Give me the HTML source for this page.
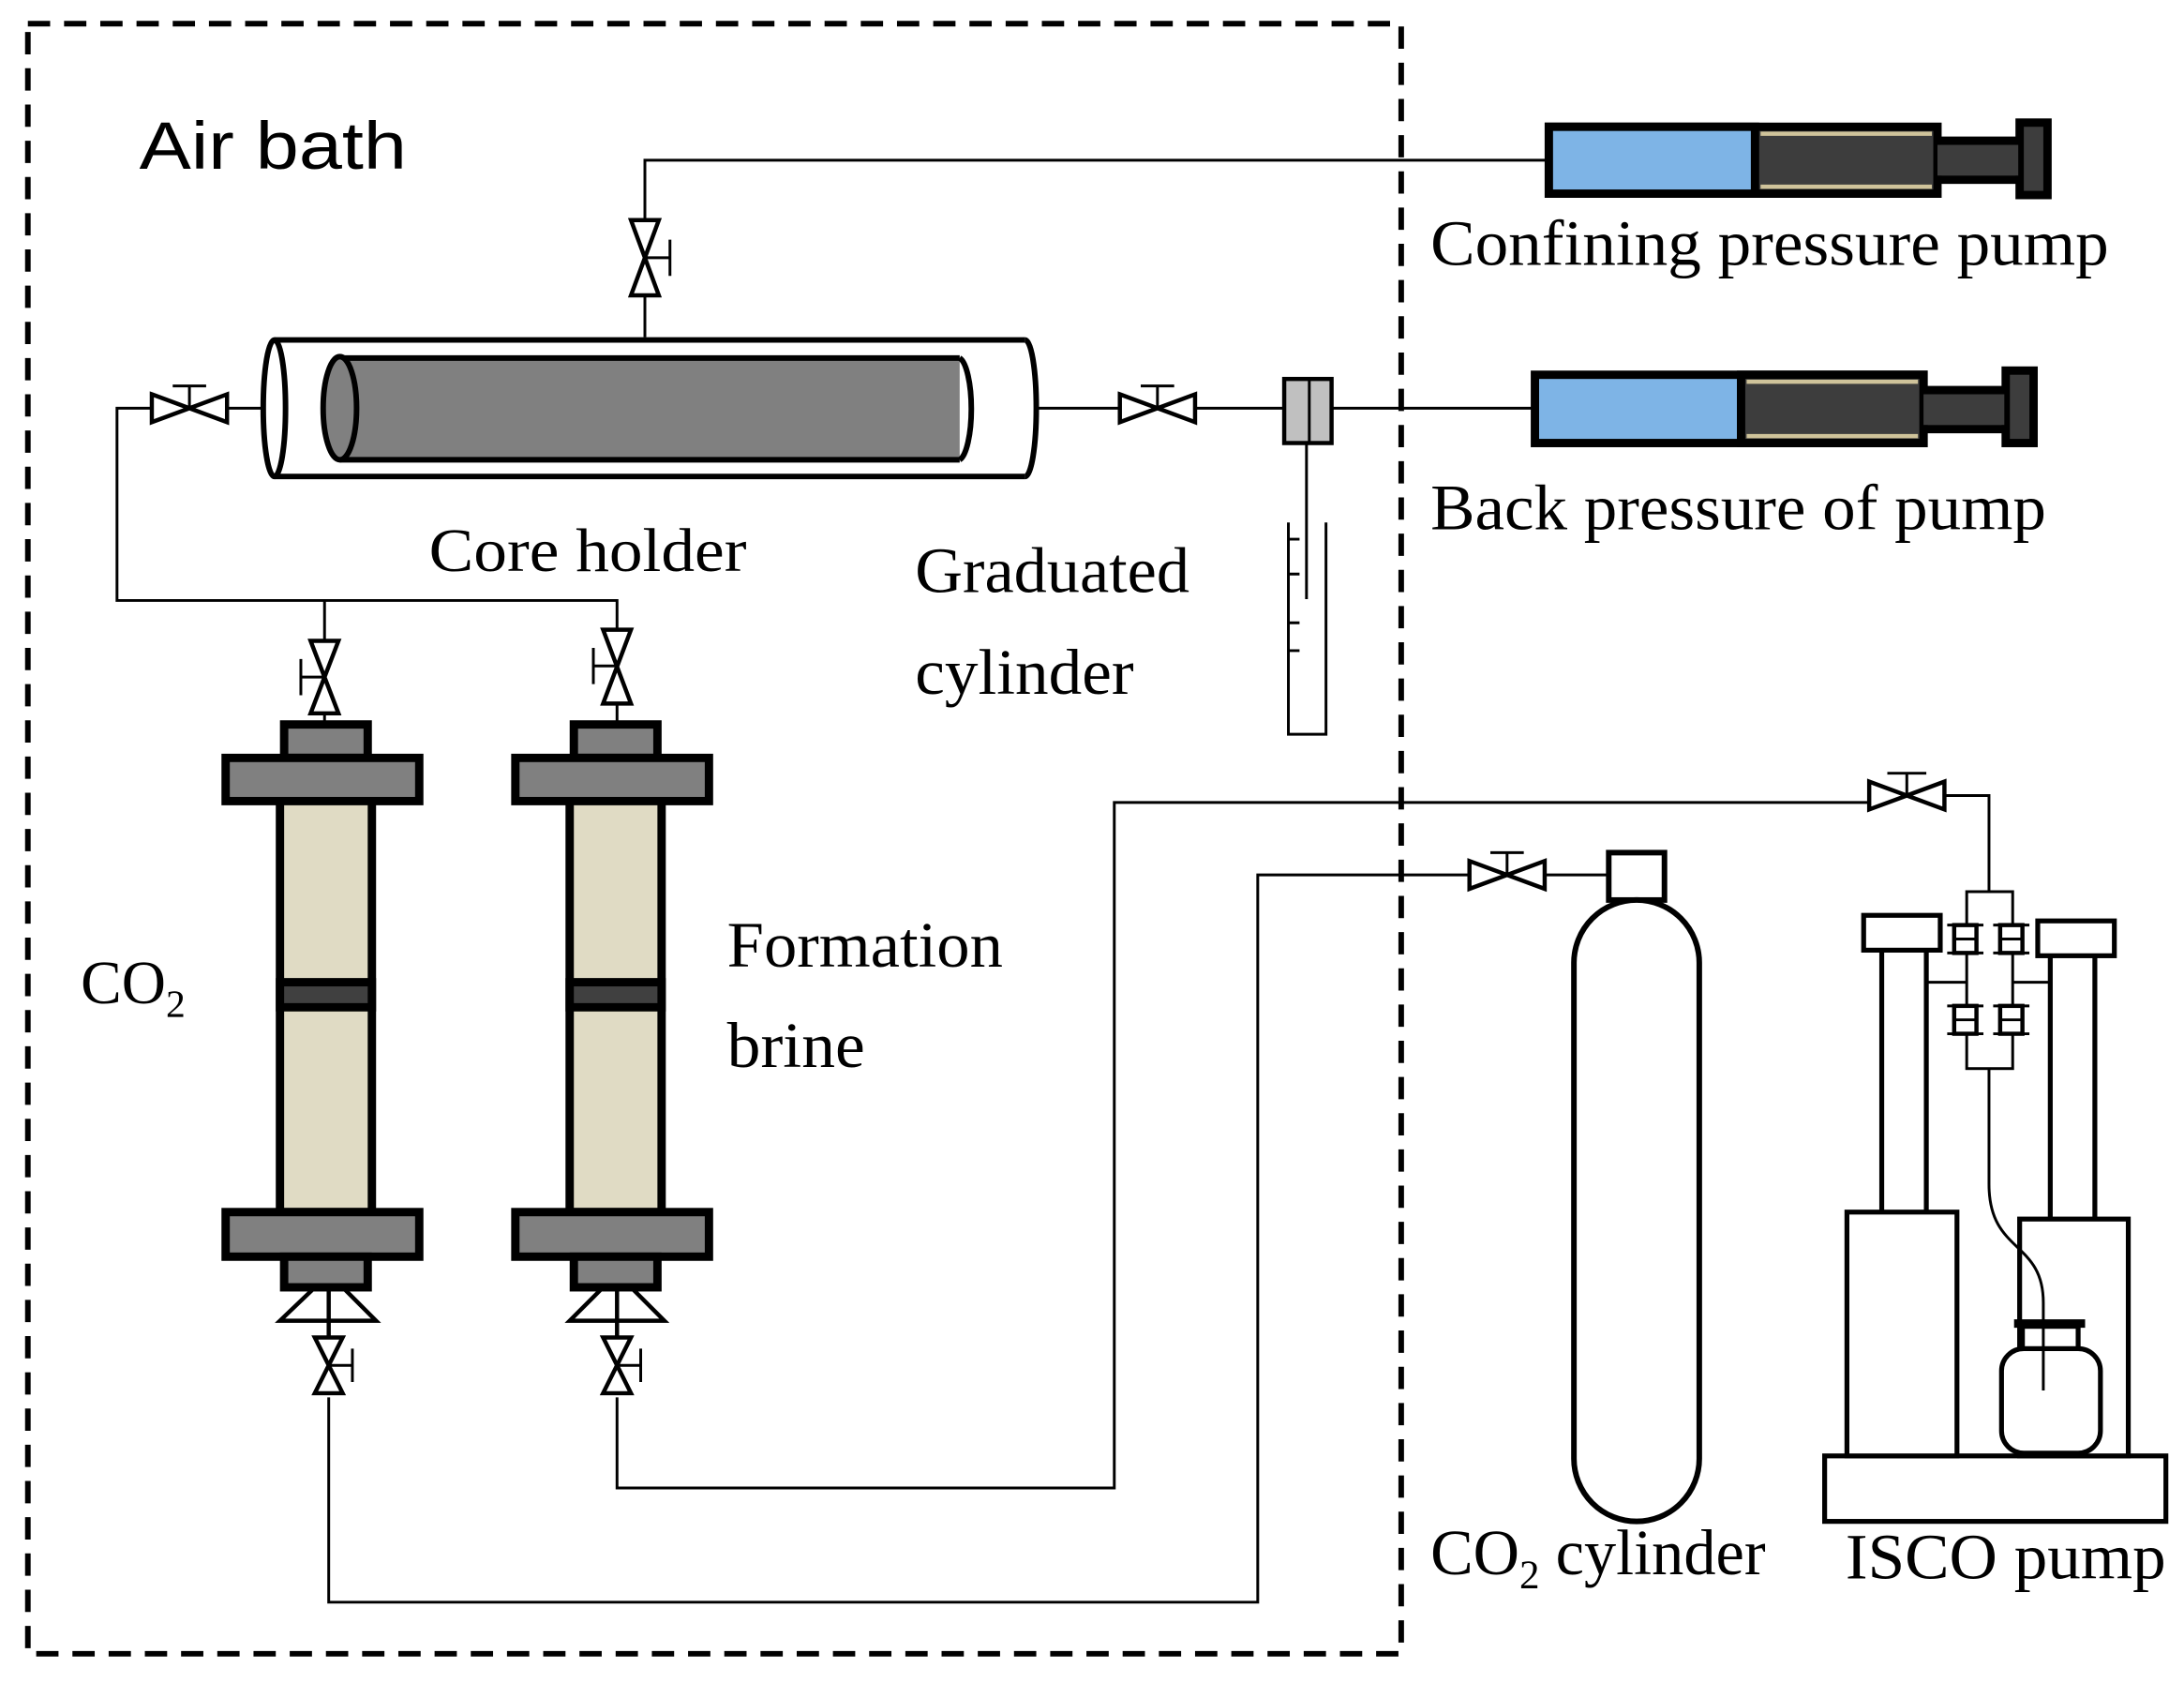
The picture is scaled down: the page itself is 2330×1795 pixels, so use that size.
<!DOCTYPE html>
<html><head><meta charset="utf-8"><style>html,body{margin:0;padding:0;background:#fff}svg{display:block}</style></head>
<body>
<svg width="2330" height="1795" viewBox="0 0 1568 1208" preserveAspectRatio="none" xmlns="http://www.w3.org/2000/svg" font-family="Liberation Serif, serif">
<rect width="1568" height="1208" fill="#fff"/>
<path d="M20 17 H1006 V1187 H20 Z" fill="none" stroke="#000" stroke-width="4" stroke-dasharray="16 10"/>
<g fill="none" stroke="#000" stroke-width="2">
<path d="M463 242 V115 H1110"/>
<path d="M190 293 H163 M109 293 H84 V431 H443 V455 M233 431 V460"/>
<path d="M745 293 H804 M858 293 H922 M956 293 H1100 M938 318 V430"/>
<path d="M925 375 V527 H952 V375 M925 387 H933 M925 412 H933 M925 447 H933 M925 467 H933"/>
<path d="M236 1003 V1150 H903 V628 H1055 M1109 628 H1155"/>
<path d="M443 1003 V1068 H800 V576 H1342 M1396 571 H1428 V640"/>
<path d="M233 510 V520 M443 505 V520"/>
</g>
<g fill="#fff" stroke="#000" stroke-width="3">
<path d="M453 158 L473 212 L453 212 L473 158 Z"/><path d="M463 185 H481 M481 172 V198" fill="none" stroke-width="2"/>
<path d="M109 283 L163 303 L163 283 L109 303 Z"/><path d="M136 293 V277 M124 277 H148" fill="none" stroke-width="2"/>
<path d="M804 283 L858 303 L858 283 L804 303 Z"/><path d="M831 293 V277 M819 277 H843" fill="none" stroke-width="2"/>
<path d="M1055 618 L1109 638 L1109 618 L1055 638 Z"/><path d="M1082 628 V612 M1070 612 H1094" fill="none" stroke-width="2"/>
<path d="M1342 561 L1396 581 L1396 561 L1342 581 Z"/><path d="M1369 571 V555 M1355 555 H1383" fill="none" stroke-width="2"/>
<path d="M223 460 L243 512 L223 512 L243 460 Z"/><path d="M233 486 H216 M216 473 V499" fill="none" stroke-width="2"/>
<path d="M433 452 L453 505 L433 505 L453 452 Z"/><path d="M443 478 H426 M426 465 V491" fill="none" stroke-width="2"/>
<path d="M226 960 L246 1000 L226 1000 L246 960 Z"/><path d="M236 980 H253 M253 968 V992" fill="none" stroke-width="2"/>
<path d="M433 960 L453 1000 L433 1000 L453 960 Z"/><path d="M443 980 H460 M460 968 V992" fill="none" stroke-width="2"/>
</g>
<g stroke="#000" stroke-width="4">
<path d="M197 244 H736 M197 342 H736" fill="none"/>
<ellipse cx="197" cy="293" rx="8" ry="49" fill="#fff"/>
<path d="M736 244 A8 49 0 0 1 736 342" fill="none"/>
<rect x="244" y="257" width="445" height="73" fill="#808080" stroke="none"/>
<path d="M244 257 H689 M244 330 H689" fill="none"/>
<ellipse cx="244" cy="293" rx="12" ry="37" fill="#808080"/>
<path d="M689 257 A10 37 0 0 1 689 330" fill="none"/>
</g>
<rect x="922" y="272" width="34" height="46" fill="#c0c0c0" stroke="#000" stroke-width="3"/>
<line x1="940" y1="272" x2="940" y2="318" stroke="#000" stroke-width="2"/>
<!-- pumps -->
<g stroke="#000" stroke-width="6">
<rect x="1391" y="101" width="60" height="28" fill="#3d3d3d"/>
<rect x="1112" y="91" width="279" height="48" fill="#3d3d3d"/>
<rect x="1112" y="91" width="148" height="48" fill="#7eb4e6"/>
<rect x="1450" y="88" width="20" height="52" fill="#3d3d3d"/>
<rect x="1381" y="280" width="60" height="28" fill="#3d3d3d"/>
<rect x="1102" y="269" width="279" height="49" fill="#7eb4e6"/>
<rect x="1250" y="269" width="131" height="49" fill="#3d3d3d"/>
<rect x="1440" y="266" width="20" height="52" fill="#3d3d3d"/>
</g>
<rect x="1391" y="104" width="58" height="22" fill="#3d3d3d"/>
<rect x="1381" y="283" width="58" height="22" fill="#3d3d3d"/>
<g stroke="#cfc39a" stroke-width="3">
<path d="M1264 96 H1387 M1264 134 H1387 M1254 274 H1377 M1254 313 H1377"/>
</g>
<g stroke="#000" stroke-width="6">
<rect x="201" y="574" width="66" height="296" fill="#e0dbc4"/>
<rect x="201" y="705" width="66" height="18" fill="#404040"/>
<rect x="204" y="520" width="60" height="24" fill="#808080"/>
<rect x="162" y="544" width="139" height="31" fill="#808080"/>
<rect x="162" y="870" width="139" height="32" fill="#808080"/>
<rect x="204" y="902" width="60" height="22" fill="#808080"/>
<rect x="409" y="574" width="66" height="296" fill="#e0dbc4"/>
<rect x="409" y="705" width="66" height="18" fill="#404040"/>
<rect x="412" y="520" width="60" height="24" fill="#808080"/>
<rect x="370" y="544" width="139" height="31" fill="#808080"/>
<rect x="370" y="870" width="139" height="32" fill="#808080"/>
<rect x="412" y="902" width="60" height="22" fill="#808080"/>
</g>
<g fill="none" stroke="#000" stroke-width="3">
<path d="M224 926 L201 948 H270 L248 926 M236 926 V960"/>
<path d="M431 926 L409 948 H477 L455 926 M443 926 V960"/>
</g>
<g fill="#fff" stroke="#000" stroke-width="4">
<rect x="1155" y="612" width="40" height="34"/>
<rect x="1130" y="646" width="90" height="446" rx="45"/>
</g>
<g fill="#fff" stroke="#000" stroke-width="3.5">
<rect x="1310" y="1045" width="245" height="47"/>
<rect x="1326" y="870" width="79" height="175"/>
<rect x="1450" y="875" width="78" height="170"/>
<path d="M1351 682 V870 M1383 682 V870 M1472 685 V875 M1504 685 V875" fill="none"/>
<rect x="1338" y="657" width="55" height="25"/>
<rect x="1463" y="661" width="55" height="25"/>
<rect x="1437" y="968" width="71" height="75" rx="16"/>
<rect x="1452" y="952" width="40" height="16"/>
</g>
<line x1="1446" y1="950" x2="1497" y2="950" stroke="#000" stroke-width="6"/>
<rect x="1412" y="640" width="33" height="127" fill="#fff" stroke="#000" stroke-width="2"/>
<path d="M1383 705 H1412 M1445 705 H1472 M1428 767 V850 C1428 900 1467 890 1467 935 V998" fill="none" stroke="#000" stroke-width="2"/>
<g fill="#fff" stroke="#000" stroke-width="3">
<rect x="1403" y="664" width="16" height="20"/><rect x="1436" y="664" width="16" height="20"/>
<rect x="1403" y="722" width="16" height="20"/><rect x="1436" y="722" width="16" height="20"/>
</g>
<g stroke="#000" stroke-width="2">
<path d="M1398 664 H1424 M1398 684 H1424 M1431 664 H1457 M1431 684 H1457 M1398 722 H1424 M1398 742 H1424 M1431 722 H1457 M1431 742 H1457 M1403 674 H1419 M1436 674 H1452 M1403 732 H1419 M1436 732 H1452"/>
</g>
<g fill="#000">
<text x="100" y="121" font-size="48" font-family="Liberation Sans, sans-serif" textLength="192" lengthAdjust="spacingAndGlyphs">Air bath</text>
<text x="1027" y="190" font-size="46" textLength="487" lengthAdjust="spacingAndGlyphs">Confining pressure pump</text>
<text x="1027" y="380" font-size="46" textLength="442" lengthAdjust="spacingAndGlyphs">Back pressure of pump</text>
<text x="308" y="410" font-size="44" textLength="228" lengthAdjust="spacingAndGlyphs">Core holder</text>
<text x="657" y="425" font-size="46" textLength="197" lengthAdjust="spacingAndGlyphs">Graduated</text>
<text x="657" y="498" font-size="46" textLength="157" lengthAdjust="spacingAndGlyphs">cylinder</text>
<text x="58" y="720" font-size="44">CO<tspan font-size="28" dy="10">2</tspan></text>
<text x="522" y="694" font-size="46" textLength="198" lengthAdjust="spacingAndGlyphs">Formation</text>
<text x="522" y="766" font-size="46" textLength="99" lengthAdjust="spacingAndGlyphs">brine</text>
<text x="1027" y="1130" font-size="46">CO<tspan font-size="29" dy="10">2</tspan><tspan dy="-10"> cylinder</tspan></text>
<text x="1325" y="1133" font-size="46" textLength="230" lengthAdjust="spacingAndGlyphs">ISCO pump</text>
</g>
</svg>
</body></html>
